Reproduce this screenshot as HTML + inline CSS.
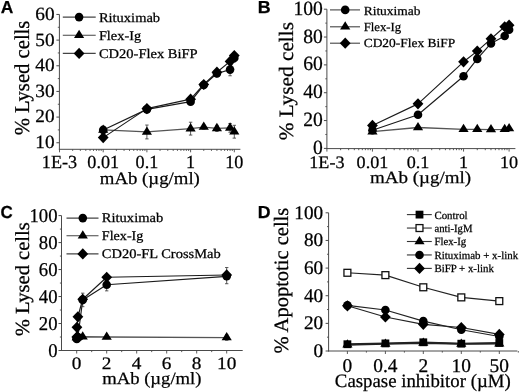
<!DOCTYPE html>
<html><head><meta charset="utf-8"><style>
html,body{margin:0;padding:0;background:#fff;}
svg{display:block;filter:blur(0.3px);}
text{fill:#000;stroke:#000;stroke-width:0.25px;text-rendering:geometricPrecision;}
</style></head><body>
<svg width="520" height="392" viewBox="0 0 520 392">
<rect width="520" height="392" fill="#fff"/>
<text x="0.69" y="13.32" font-size="17.40" textLength="12.57" lengthAdjust="spacingAndGlyphs" font-family="'Liberation Sans',sans-serif" font-weight="bold">A</text>
<line x1="59.40" y1="14.45" x2="59.40" y2="149.80" stroke="#4a4a4a" stroke-width="1.0"/>
<line x1="58.90" y1="149.30" x2="240.40" y2="149.30" stroke="#4a4a4a" stroke-width="1.0"/>
<line x1="56.40" y1="142.75" x2="59.40" y2="142.75" stroke="#4a4a4a" stroke-width="1.0"/>
<text x="35.35" y="148.15" font-size="18.65" textLength="19.27" lengthAdjust="spacingAndGlyphs" font-family="'Liberation Serif',serif">10</text>
<line x1="56.40" y1="117.09" x2="59.40" y2="117.09" stroke="#4a4a4a" stroke-width="1.0"/>
<text x="35.35" y="122.49" font-size="18.65" textLength="19.27" lengthAdjust="spacingAndGlyphs" font-family="'Liberation Serif',serif">20</text>
<line x1="56.40" y1="91.43" x2="59.40" y2="91.43" stroke="#4a4a4a" stroke-width="1.0"/>
<text x="35.35" y="96.83" font-size="18.65" textLength="19.27" lengthAdjust="spacingAndGlyphs" font-family="'Liberation Serif',serif">30</text>
<line x1="56.40" y1="65.77" x2="59.40" y2="65.77" stroke="#4a4a4a" stroke-width="1.0"/>
<text x="35.35" y="71.17" font-size="18.65" textLength="19.27" lengthAdjust="spacingAndGlyphs" font-family="'Liberation Serif',serif">40</text>
<line x1="56.40" y1="40.11" x2="59.40" y2="40.11" stroke="#4a4a4a" stroke-width="1.0"/>
<text x="35.35" y="45.51" font-size="18.65" textLength="19.27" lengthAdjust="spacingAndGlyphs" font-family="'Liberation Serif',serif">50</text>
<line x1="56.40" y1="14.45" x2="59.40" y2="14.45" stroke="#4a4a4a" stroke-width="1.0"/>
<text x="35.35" y="19.85" font-size="18.65" textLength="19.27" lengthAdjust="spacingAndGlyphs" font-family="'Liberation Serif',serif">60</text>
<line x1="57.80" y1="129.92" x2="59.40" y2="129.92" stroke="#4a4a4a" stroke-width="0.9"/>
<line x1="57.80" y1="104.26" x2="59.40" y2="104.26" stroke="#4a4a4a" stroke-width="0.9"/>
<line x1="57.80" y1="78.60" x2="59.40" y2="78.60" stroke="#4a4a4a" stroke-width="0.9"/>
<line x1="57.80" y1="52.94" x2="59.40" y2="52.94" stroke="#4a4a4a" stroke-width="0.9"/>
<line x1="57.80" y1="27.28" x2="59.40" y2="27.28" stroke="#4a4a4a" stroke-width="0.9"/>
<line x1="59.50" y1="149.30" x2="59.50" y2="152.30" stroke="#4a4a4a" stroke-width="0.9"/>
<line x1="72.66" y1="149.30" x2="72.66" y2="150.90" stroke="#4a4a4a" stroke-width="0.9"/>
<line x1="80.35" y1="149.30" x2="80.35" y2="150.90" stroke="#4a4a4a" stroke-width="0.9"/>
<line x1="85.81" y1="149.30" x2="85.81" y2="150.90" stroke="#4a4a4a" stroke-width="0.9"/>
<line x1="90.04" y1="149.30" x2="90.04" y2="150.90" stroke="#4a4a4a" stroke-width="0.9"/>
<line x1="93.51" y1="149.30" x2="93.51" y2="150.90" stroke="#4a4a4a" stroke-width="0.9"/>
<line x1="96.43" y1="149.30" x2="96.43" y2="150.90" stroke="#4a4a4a" stroke-width="0.9"/>
<line x1="98.97" y1="149.30" x2="98.97" y2="150.90" stroke="#4a4a4a" stroke-width="0.9"/>
<line x1="101.20" y1="149.30" x2="101.20" y2="150.90" stroke="#4a4a4a" stroke-width="0.9"/>
<line x1="103.20" y1="149.30" x2="103.20" y2="152.30" stroke="#4a4a4a" stroke-width="0.9"/>
<line x1="116.36" y1="149.30" x2="116.36" y2="150.90" stroke="#4a4a4a" stroke-width="0.9"/>
<line x1="124.05" y1="149.30" x2="124.05" y2="150.90" stroke="#4a4a4a" stroke-width="0.9"/>
<line x1="129.51" y1="149.30" x2="129.51" y2="150.90" stroke="#4a4a4a" stroke-width="0.9"/>
<line x1="133.74" y1="149.30" x2="133.74" y2="150.90" stroke="#4a4a4a" stroke-width="0.9"/>
<line x1="137.21" y1="149.30" x2="137.21" y2="150.90" stroke="#4a4a4a" stroke-width="0.9"/>
<line x1="140.13" y1="149.30" x2="140.13" y2="150.90" stroke="#4a4a4a" stroke-width="0.9"/>
<line x1="142.67" y1="149.30" x2="142.67" y2="150.90" stroke="#4a4a4a" stroke-width="0.9"/>
<line x1="144.90" y1="149.30" x2="144.90" y2="150.90" stroke="#4a4a4a" stroke-width="0.9"/>
<line x1="146.90" y1="149.30" x2="146.90" y2="152.30" stroke="#4a4a4a" stroke-width="0.9"/>
<line x1="160.06" y1="149.30" x2="160.06" y2="150.90" stroke="#4a4a4a" stroke-width="0.9"/>
<line x1="167.75" y1="149.30" x2="167.75" y2="150.90" stroke="#4a4a4a" stroke-width="0.9"/>
<line x1="173.21" y1="149.30" x2="173.21" y2="150.90" stroke="#4a4a4a" stroke-width="0.9"/>
<line x1="177.44" y1="149.30" x2="177.44" y2="150.90" stroke="#4a4a4a" stroke-width="0.9"/>
<line x1="180.91" y1="149.30" x2="180.91" y2="150.90" stroke="#4a4a4a" stroke-width="0.9"/>
<line x1="183.83" y1="149.30" x2="183.83" y2="150.90" stroke="#4a4a4a" stroke-width="0.9"/>
<line x1="186.37" y1="149.30" x2="186.37" y2="150.90" stroke="#4a4a4a" stroke-width="0.9"/>
<line x1="188.60" y1="149.30" x2="188.60" y2="150.90" stroke="#4a4a4a" stroke-width="0.9"/>
<line x1="190.60" y1="149.30" x2="190.60" y2="152.30" stroke="#4a4a4a" stroke-width="0.9"/>
<line x1="203.76" y1="149.30" x2="203.76" y2="150.90" stroke="#4a4a4a" stroke-width="0.9"/>
<line x1="211.45" y1="149.30" x2="211.45" y2="150.90" stroke="#4a4a4a" stroke-width="0.9"/>
<line x1="216.91" y1="149.30" x2="216.91" y2="150.90" stroke="#4a4a4a" stroke-width="0.9"/>
<line x1="221.14" y1="149.30" x2="221.14" y2="150.90" stroke="#4a4a4a" stroke-width="0.9"/>
<line x1="224.61" y1="149.30" x2="224.61" y2="150.90" stroke="#4a4a4a" stroke-width="0.9"/>
<line x1="227.53" y1="149.30" x2="227.53" y2="150.90" stroke="#4a4a4a" stroke-width="0.9"/>
<line x1="230.07" y1="149.30" x2="230.07" y2="150.90" stroke="#4a4a4a" stroke-width="0.9"/>
<line x1="232.30" y1="149.30" x2="232.30" y2="150.90" stroke="#4a4a4a" stroke-width="0.9"/>
<line x1="234.30" y1="149.30" x2="234.30" y2="152.30" stroke="#4a4a4a" stroke-width="0.9"/>
<text x="41.85" y="168.43" font-size="18.51" textLength="35.30" lengthAdjust="spacingAndGlyphs" font-family="'Liberation Serif',serif">1E-3</text>
<text x="87.31" y="168.43" font-size="18.51" textLength="31.78" lengthAdjust="spacingAndGlyphs" font-family="'Liberation Serif',serif">0.01</text>
<text x="135.55" y="168.43" font-size="18.51" textLength="22.70" lengthAdjust="spacingAndGlyphs" font-family="'Liberation Serif',serif">0.1</text>
<text x="186.06" y="168.43" font-size="18.51" textLength="9.08" lengthAdjust="spacingAndGlyphs" font-family="'Liberation Serif',serif">1</text>
<text x="225.22" y="168.43" font-size="18.51" textLength="18.16" lengthAdjust="spacingAndGlyphs" font-family="'Liberation Serif',serif">10</text>
<text x="99.84" y="183.59" font-size="17.31" textLength="100.04" lengthAdjust="spacingAndGlyphs" font-family="'Liberation Serif',serif">mAb (µg/ml)</text>
<text x="0" y="0" font-size="21.13" transform="translate(28.60,135.32) rotate(-90)" textLength="114.72" lengthAdjust="spacingAndGlyphs" font-family="'Liberation Serif',serif">% Lysed cells</text>
<line x1="62.80" y1="17.10" x2="95.70" y2="17.10" stroke="#444" stroke-width="1.1"/>
<circle cx="79.10" cy="17.10" r="4.30" fill="#000"/>
<text x="98.90" y="21.71" font-size="13.20" textLength="61.23" lengthAdjust="spacingAndGlyphs" font-family="'Liberation Serif',serif">Rituximab</text>
<line x1="62.80" y1="35.30" x2="95.70" y2="35.30" stroke="#444" stroke-width="1.1"/>
<polygon points="79.10,29.77 84.20,38.07 74.00,38.07" fill="#000"/>
<text x="98.90" y="39.90" font-size="13.20" textLength="42.24" lengthAdjust="spacingAndGlyphs" font-family="'Liberation Serif',serif">Flex-Ig</text>
<line x1="62.80" y1="53.40" x2="95.70" y2="53.40" stroke="#444" stroke-width="1.1"/>
<polygon points="79.10,47.80 84.50,53.40 79.10,59.00 73.70,53.40" fill="#000"/>
<text x="98.90" y="57.63" font-size="13.20" textLength="98.82" lengthAdjust="spacingAndGlyphs" font-family="'Liberation Serif',serif">CD20-Flex BiFP</text>
<polyline points="103.20,129.92 146.90,131.97 190.60,128.64 203.76,127.10 216.91,128.38 230.07,127.87 234.30,131.72" fill="none" stroke="#555" stroke-width="1.3" stroke-linejoin="round"/>
<polyline points="103.20,129.92 146.90,109.39 190.60,101.69 203.76,85.02 216.91,73.47 230.07,69.62 234.30,58.07" fill="none" stroke="#1a1a1a" stroke-width="1.15" stroke-linejoin="round"/>
<polyline points="103.20,137.62 146.90,108.62 190.60,99.13 203.76,84.50 216.91,72.19 230.07,61.41 234.30,55.51" fill="none" stroke="#1a1a1a" stroke-width="1.15" stroke-linejoin="round"/>
<line x1="146.90" y1="125.04" x2="146.90" y2="138.90" stroke="#333" stroke-width="0.8"/>
<line x1="145.20" y1="125.04" x2="148.60" y2="125.04" stroke="#333" stroke-width="0.8"/>
<line x1="145.20" y1="138.90" x2="148.60" y2="138.90" stroke="#333" stroke-width="0.8"/>
<line x1="190.60" y1="122.22" x2="190.60" y2="135.05" stroke="#333" stroke-width="0.8"/>
<line x1="188.90" y1="122.22" x2="192.30" y2="122.22" stroke="#333" stroke-width="0.8"/>
<line x1="188.90" y1="135.05" x2="192.30" y2="135.05" stroke="#333" stroke-width="0.8"/>
<line x1="203.76" y1="125.04" x2="203.76" y2="129.15" stroke="#333" stroke-width="0.8"/>
<line x1="202.06" y1="125.04" x2="205.46" y2="125.04" stroke="#333" stroke-width="0.8"/>
<line x1="202.06" y1="129.15" x2="205.46" y2="129.15" stroke="#333" stroke-width="0.8"/>
<line x1="216.91" y1="125.30" x2="216.91" y2="131.46" stroke="#333" stroke-width="0.8"/>
<line x1="215.21" y1="125.30" x2="218.61" y2="125.30" stroke="#333" stroke-width="0.8"/>
<line x1="215.21" y1="131.46" x2="218.61" y2="131.46" stroke="#333" stroke-width="0.8"/>
<line x1="230.07" y1="123.50" x2="230.07" y2="132.23" stroke="#333" stroke-width="0.8"/>
<line x1="228.37" y1="123.50" x2="231.77" y2="123.50" stroke="#333" stroke-width="0.8"/>
<line x1="228.37" y1="132.23" x2="231.77" y2="132.23" stroke="#333" stroke-width="0.8"/>
<line x1="234.30" y1="125.30" x2="234.30" y2="138.13" stroke="#333" stroke-width="0.8"/>
<line x1="232.60" y1="125.30" x2="236.00" y2="125.30" stroke="#333" stroke-width="0.8"/>
<line x1="232.60" y1="138.13" x2="236.00" y2="138.13" stroke="#333" stroke-width="0.8"/>
<line x1="103.20" y1="127.87" x2="103.20" y2="131.97" stroke="#333" stroke-width="0.8"/>
<line x1="101.50" y1="127.87" x2="104.90" y2="127.87" stroke="#333" stroke-width="0.8"/>
<line x1="101.50" y1="131.97" x2="104.90" y2="131.97" stroke="#333" stroke-width="0.8"/>
<line x1="230.07" y1="63.46" x2="230.07" y2="75.78" stroke="#333" stroke-width="0.8"/>
<line x1="228.37" y1="63.46" x2="231.77" y2="63.46" stroke="#333" stroke-width="0.8"/>
<line x1="228.37" y1="75.78" x2="231.77" y2="75.78" stroke="#333" stroke-width="0.8"/>
<line x1="234.30" y1="54.22" x2="234.30" y2="61.92" stroke="#333" stroke-width="0.8"/>
<line x1="232.60" y1="54.22" x2="236.00" y2="54.22" stroke="#333" stroke-width="0.8"/>
<line x1="232.60" y1="61.92" x2="236.00" y2="61.92" stroke="#333" stroke-width="0.8"/>
<line x1="216.91" y1="70.90" x2="216.91" y2="76.03" stroke="#333" stroke-width="0.8"/>
<line x1="215.21" y1="70.90" x2="218.61" y2="70.90" stroke="#333" stroke-width="0.8"/>
<line x1="215.21" y1="76.03" x2="218.61" y2="76.03" stroke="#333" stroke-width="0.8"/>
<line x1="146.90" y1="106.31" x2="146.90" y2="112.47" stroke="#333" stroke-width="0.8"/>
<line x1="145.20" y1="106.31" x2="148.60" y2="106.31" stroke="#333" stroke-width="0.8"/>
<line x1="145.20" y1="112.47" x2="148.60" y2="112.47" stroke="#333" stroke-width="0.8"/>
<polygon points="103.20,124.39 108.30,132.69 98.10,132.69" fill="#000"/>
<polygon points="146.90,126.44 152.00,134.74 141.80,134.74" fill="#000"/>
<polygon points="190.60,123.10 195.70,131.40 185.50,131.40" fill="#000"/>
<polygon points="203.76,121.56 208.86,129.86 198.66,129.86" fill="#000"/>
<polygon points="216.91,122.85 222.01,131.15 211.81,131.15" fill="#000"/>
<polygon points="230.07,122.33 235.17,130.63 224.97,130.63" fill="#000"/>
<polygon points="234.30,126.18 239.40,134.48 229.20,134.48" fill="#000"/>
<circle cx="103.20" cy="129.92" r="4.30" fill="#000"/>
<circle cx="146.90" cy="109.39" r="4.30" fill="#000"/>
<circle cx="190.60" cy="101.69" r="4.30" fill="#000"/>
<circle cx="203.76" cy="85.02" r="4.30" fill="#000"/>
<circle cx="216.91" cy="73.47" r="4.30" fill="#000"/>
<circle cx="230.07" cy="69.62" r="4.30" fill="#000"/>
<circle cx="234.30" cy="58.07" r="4.30" fill="#000"/>
<polygon points="103.20,132.02 108.60,137.62 103.20,143.22 97.80,137.62" fill="#000"/>
<polygon points="146.90,103.02 152.30,108.62 146.90,114.22 141.50,108.62" fill="#000"/>
<polygon points="190.60,93.53 196.00,99.13 190.60,104.73 185.20,99.13" fill="#000"/>
<polygon points="203.76,78.90 209.16,84.50 203.76,90.10 198.36,84.50" fill="#000"/>
<polygon points="216.91,66.59 222.31,72.19 216.91,77.78 211.51,72.19" fill="#000"/>
<polygon points="230.07,55.81 235.47,61.41 230.07,67.01 224.67,61.41" fill="#000"/>
<polygon points="234.30,49.91 239.70,55.51 234.30,61.11 228.90,55.51" fill="#000"/>
<text x="257.83" y="13.30" font-size="17.40" textLength="12.92" lengthAdjust="spacingAndGlyphs" font-family="'Liberation Sans',sans-serif" font-weight="bold">B</text>
<line x1="326.90" y1="9.20" x2="326.90" y2="149.10" stroke="#4a4a4a" stroke-width="1.0"/>
<line x1="326.40" y1="148.60" x2="515.40" y2="148.60" stroke="#4a4a4a" stroke-width="1.0"/>
<line x1="323.90" y1="148.40" x2="326.90" y2="148.40" stroke="#4a4a4a" stroke-width="1.0"/>
<text x="313.06" y="153.97" font-size="20.25" textLength="9.80" lengthAdjust="spacingAndGlyphs" font-family="'Liberation Serif',serif">0</text>
<line x1="323.90" y1="120.56" x2="326.90" y2="120.56" stroke="#4a4a4a" stroke-width="1.0"/>
<text x="303.26" y="126.13" font-size="20.25" textLength="19.60" lengthAdjust="spacingAndGlyphs" font-family="'Liberation Serif',serif">20</text>
<line x1="323.90" y1="92.72" x2="326.90" y2="92.72" stroke="#4a4a4a" stroke-width="1.0"/>
<text x="303.26" y="98.29" font-size="20.25" textLength="19.60" lengthAdjust="spacingAndGlyphs" font-family="'Liberation Serif',serif">40</text>
<line x1="323.90" y1="64.88" x2="326.90" y2="64.88" stroke="#4a4a4a" stroke-width="1.0"/>
<text x="303.26" y="70.45" font-size="20.25" textLength="19.60" lengthAdjust="spacingAndGlyphs" font-family="'Liberation Serif',serif">60</text>
<line x1="323.90" y1="37.04" x2="326.90" y2="37.04" stroke="#4a4a4a" stroke-width="1.0"/>
<text x="303.26" y="42.61" font-size="20.25" textLength="19.60" lengthAdjust="spacingAndGlyphs" font-family="'Liberation Serif',serif">80</text>
<line x1="323.90" y1="9.20" x2="326.90" y2="9.20" stroke="#4a4a4a" stroke-width="1.0"/>
<text x="293.46" y="14.77" font-size="20.25" textLength="29.40" lengthAdjust="spacingAndGlyphs" font-family="'Liberation Serif',serif">100</text>
<line x1="325.30" y1="134.48" x2="326.90" y2="134.48" stroke="#4a4a4a" stroke-width="0.9"/>
<line x1="325.30" y1="106.64" x2="326.90" y2="106.64" stroke="#4a4a4a" stroke-width="0.9"/>
<line x1="325.30" y1="78.80" x2="326.90" y2="78.80" stroke="#4a4a4a" stroke-width="0.9"/>
<line x1="325.30" y1="50.96" x2="326.90" y2="50.96" stroke="#4a4a4a" stroke-width="0.9"/>
<line x1="325.30" y1="23.12" x2="326.90" y2="23.12" stroke="#4a4a4a" stroke-width="0.9"/>
<line x1="326.90" y1="148.60" x2="326.90" y2="151.60" stroke="#4a4a4a" stroke-width="0.9"/>
<line x1="340.61" y1="148.60" x2="340.61" y2="150.20" stroke="#4a4a4a" stroke-width="0.9"/>
<line x1="348.63" y1="148.60" x2="348.63" y2="150.20" stroke="#4a4a4a" stroke-width="0.9"/>
<line x1="354.32" y1="148.60" x2="354.32" y2="150.20" stroke="#4a4a4a" stroke-width="0.9"/>
<line x1="358.74" y1="148.60" x2="358.74" y2="150.20" stroke="#4a4a4a" stroke-width="0.9"/>
<line x1="362.34" y1="148.60" x2="362.34" y2="150.20" stroke="#4a4a4a" stroke-width="0.9"/>
<line x1="365.39" y1="148.60" x2="365.39" y2="150.20" stroke="#4a4a4a" stroke-width="0.9"/>
<line x1="368.04" y1="148.60" x2="368.04" y2="150.20" stroke="#4a4a4a" stroke-width="0.9"/>
<line x1="370.37" y1="148.60" x2="370.37" y2="150.20" stroke="#4a4a4a" stroke-width="0.9"/>
<line x1="372.45" y1="148.60" x2="372.45" y2="151.60" stroke="#4a4a4a" stroke-width="0.9"/>
<line x1="386.16" y1="148.60" x2="386.16" y2="150.20" stroke="#4a4a4a" stroke-width="0.9"/>
<line x1="394.18" y1="148.60" x2="394.18" y2="150.20" stroke="#4a4a4a" stroke-width="0.9"/>
<line x1="399.87" y1="148.60" x2="399.87" y2="150.20" stroke="#4a4a4a" stroke-width="0.9"/>
<line x1="404.29" y1="148.60" x2="404.29" y2="150.20" stroke="#4a4a4a" stroke-width="0.9"/>
<line x1="407.89" y1="148.60" x2="407.89" y2="150.20" stroke="#4a4a4a" stroke-width="0.9"/>
<line x1="410.94" y1="148.60" x2="410.94" y2="150.20" stroke="#4a4a4a" stroke-width="0.9"/>
<line x1="413.59" y1="148.60" x2="413.59" y2="150.20" stroke="#4a4a4a" stroke-width="0.9"/>
<line x1="415.92" y1="148.60" x2="415.92" y2="150.20" stroke="#4a4a4a" stroke-width="0.9"/>
<line x1="418.00" y1="148.60" x2="418.00" y2="151.60" stroke="#4a4a4a" stroke-width="0.9"/>
<line x1="431.71" y1="148.60" x2="431.71" y2="150.20" stroke="#4a4a4a" stroke-width="0.9"/>
<line x1="439.73" y1="148.60" x2="439.73" y2="150.20" stroke="#4a4a4a" stroke-width="0.9"/>
<line x1="445.42" y1="148.60" x2="445.42" y2="150.20" stroke="#4a4a4a" stroke-width="0.9"/>
<line x1="449.84" y1="148.60" x2="449.84" y2="150.20" stroke="#4a4a4a" stroke-width="0.9"/>
<line x1="453.44" y1="148.60" x2="453.44" y2="150.20" stroke="#4a4a4a" stroke-width="0.9"/>
<line x1="456.49" y1="148.60" x2="456.49" y2="150.20" stroke="#4a4a4a" stroke-width="0.9"/>
<line x1="459.14" y1="148.60" x2="459.14" y2="150.20" stroke="#4a4a4a" stroke-width="0.9"/>
<line x1="461.47" y1="148.60" x2="461.47" y2="150.20" stroke="#4a4a4a" stroke-width="0.9"/>
<line x1="463.55" y1="148.60" x2="463.55" y2="151.60" stroke="#4a4a4a" stroke-width="0.9"/>
<line x1="477.26" y1="148.60" x2="477.26" y2="150.20" stroke="#4a4a4a" stroke-width="0.9"/>
<line x1="485.28" y1="148.60" x2="485.28" y2="150.20" stroke="#4a4a4a" stroke-width="0.9"/>
<line x1="490.97" y1="148.60" x2="490.97" y2="150.20" stroke="#4a4a4a" stroke-width="0.9"/>
<line x1="495.39" y1="148.60" x2="495.39" y2="150.20" stroke="#4a4a4a" stroke-width="0.9"/>
<line x1="498.99" y1="148.60" x2="498.99" y2="150.20" stroke="#4a4a4a" stroke-width="0.9"/>
<line x1="502.04" y1="148.60" x2="502.04" y2="150.20" stroke="#4a4a4a" stroke-width="0.9"/>
<line x1="504.69" y1="148.60" x2="504.69" y2="150.20" stroke="#4a4a4a" stroke-width="0.9"/>
<line x1="507.02" y1="148.60" x2="507.02" y2="150.20" stroke="#4a4a4a" stroke-width="0.9"/>
<line x1="509.10" y1="148.60" x2="509.10" y2="151.60" stroke="#4a4a4a" stroke-width="0.9"/>
<text x="309.28" y="167.83" font-size="17.51" textLength="35.23" lengthAdjust="spacingAndGlyphs" font-family="'Liberation Serif',serif">1E-3</text>
<text x="356.59" y="167.83" font-size="17.51" textLength="31.71" lengthAdjust="spacingAndGlyphs" font-family="'Liberation Serif',serif">0.01</text>
<text x="406.67" y="167.83" font-size="17.51" textLength="22.65" lengthAdjust="spacingAndGlyphs" font-family="'Liberation Serif',serif">0.1</text>
<text x="459.02" y="167.83" font-size="17.51" textLength="9.06" lengthAdjust="spacingAndGlyphs" font-family="'Liberation Serif',serif">1</text>
<text x="500.04" y="167.83" font-size="17.51" textLength="18.12" lengthAdjust="spacingAndGlyphs" font-family="'Liberation Serif',serif">10</text>
<text x="370.01" y="183.20" font-size="17.07" textLength="101.08" lengthAdjust="spacingAndGlyphs" font-family="'Liberation Serif',serif">mAb (µg/ml)</text>
<text x="0" y="0" font-size="20.42" transform="translate(293.10,140.33) rotate(-90)" textLength="118.33" lengthAdjust="spacingAndGlyphs" font-family="'Liberation Serif',serif">% Lysed cells</text>
<line x1="330.00" y1="9.90" x2="360.00" y2="9.90" stroke="#444" stroke-width="1.1"/>
<circle cx="345.20" cy="9.90" r="4.30" fill="#000"/>
<text x="363.66" y="14.60" font-size="12.40" textLength="56.86" lengthAdjust="spacingAndGlyphs" font-family="'Liberation Serif',serif">Rituximab</text>
<line x1="330.00" y1="26.80" x2="360.00" y2="26.80" stroke="#444" stroke-width="1.1"/>
<polygon points="345.20,21.27 350.30,29.57 340.10,29.57" fill="#000"/>
<text x="363.66" y="30.90" font-size="12.40" textLength="37.60" lengthAdjust="spacingAndGlyphs" font-family="'Liberation Serif',serif">Flex-Ig</text>
<line x1="330.00" y1="43.20" x2="360.00" y2="43.20" stroke="#444" stroke-width="1.1"/>
<polygon points="345.20,37.60 350.60,43.20 345.20,48.80 339.80,43.20" fill="#000"/>
<text x="363.66" y="47.30" font-size="12.40" textLength="91.60" lengthAdjust="spacingAndGlyphs" font-family="'Liberation Serif',serif">CD20-Flex BiFP</text>
<polyline points="372.45,131.70 418.00,127.52 463.55,129.33 477.26,129.33 490.97,129.61 504.69,129.33 509.10,128.49" fill="none" stroke="#555" stroke-width="1.3" stroke-linejoin="round"/>
<polyline points="372.45,130.30 418.00,114.71 463.55,76.29 477.26,58.89 490.97,43.44 504.69,35.93 509.10,29.66" fill="none" stroke="#1a1a1a" stroke-width="1.15" stroke-linejoin="round"/>
<polyline points="372.45,125.43 418.00,103.86 463.55,61.82 477.26,51.10 490.97,38.85 504.69,26.74 509.10,25.21" fill="none" stroke="#1a1a1a" stroke-width="1.15" stroke-linejoin="round"/>
<polygon points="372.45,126.16 377.55,134.46 367.35,134.46" fill="#000"/>
<polygon points="418.00,121.99 423.10,130.29 412.90,130.29" fill="#000"/>
<polygon points="463.55,123.80 468.65,132.10 458.45,132.10" fill="#000"/>
<polygon points="477.26,123.80 482.36,132.10 472.16,132.10" fill="#000"/>
<polygon points="490.97,124.07 496.07,132.37 485.87,132.37" fill="#000"/>
<polygon points="504.69,123.80 509.79,132.10 499.59,132.10" fill="#000"/>
<polygon points="509.10,122.96 514.20,131.26 504.00,131.26" fill="#000"/>
<circle cx="372.45" cy="130.30" r="4.30" fill="#000"/>
<circle cx="418.00" cy="114.71" r="4.30" fill="#000"/>
<circle cx="463.55" cy="76.29" r="4.30" fill="#000"/>
<circle cx="477.26" cy="58.89" r="4.30" fill="#000"/>
<circle cx="490.97" cy="43.44" r="4.30" fill="#000"/>
<circle cx="504.69" cy="35.93" r="4.30" fill="#000"/>
<circle cx="509.10" cy="29.66" r="4.30" fill="#000"/>
<polygon points="372.45,119.83 377.85,125.43 372.45,131.03 367.05,125.43" fill="#000"/>
<polygon points="418.00,98.26 423.40,103.86 418.00,109.46 412.60,103.86" fill="#000"/>
<polygon points="463.55,56.22 468.95,61.82 463.55,67.42 458.15,61.82" fill="#000"/>
<polygon points="477.26,45.50 482.66,51.10 477.26,56.70 471.86,51.10" fill="#000"/>
<polygon points="490.97,33.25 496.37,38.85 490.97,44.45 485.57,38.85" fill="#000"/>
<polygon points="504.69,21.14 510.09,26.74 504.69,32.34 499.29,26.74" fill="#000"/>
<polygon points="509.10,19.61 514.50,25.21 509.10,30.81 503.70,25.21" fill="#000"/>
<text x="0.51" y="218.08" font-size="17.40" textLength="12.26" lengthAdjust="spacingAndGlyphs" font-family="'Liberation Sans',sans-serif" font-weight="bold">C</text>
<line x1="61.50" y1="215.60" x2="61.50" y2="351.00" stroke="#4a4a4a" stroke-width="1.0"/>
<line x1="61.00" y1="350.50" x2="242.70" y2="350.50" stroke="#4a4a4a" stroke-width="1.0"/>
<line x1="58.50" y1="350.50" x2="61.50" y2="350.50" stroke="#4a4a4a" stroke-width="1.0"/>
<text x="48.16" y="356.84" font-size="19.54" textLength="9.35" lengthAdjust="spacingAndGlyphs" font-family="'Liberation Serif',serif">0</text>
<line x1="58.50" y1="323.52" x2="61.50" y2="323.52" stroke="#4a4a4a" stroke-width="1.0"/>
<text x="38.81" y="329.86" font-size="19.54" textLength="18.70" lengthAdjust="spacingAndGlyphs" font-family="'Liberation Serif',serif">20</text>
<line x1="58.50" y1="296.54" x2="61.50" y2="296.54" stroke="#4a4a4a" stroke-width="1.0"/>
<text x="38.81" y="302.88" font-size="19.54" textLength="18.70" lengthAdjust="spacingAndGlyphs" font-family="'Liberation Serif',serif">40</text>
<line x1="58.50" y1="269.56" x2="61.50" y2="269.56" stroke="#4a4a4a" stroke-width="1.0"/>
<text x="38.81" y="275.90" font-size="19.54" textLength="18.70" lengthAdjust="spacingAndGlyphs" font-family="'Liberation Serif',serif">60</text>
<line x1="58.50" y1="242.58" x2="61.50" y2="242.58" stroke="#4a4a4a" stroke-width="1.0"/>
<text x="38.81" y="248.92" font-size="19.54" textLength="18.70" lengthAdjust="spacingAndGlyphs" font-family="'Liberation Serif',serif">80</text>
<line x1="58.50" y1="215.60" x2="61.50" y2="215.60" stroke="#4a4a4a" stroke-width="1.0"/>
<text x="29.46" y="221.94" font-size="19.54" textLength="28.05" lengthAdjust="spacingAndGlyphs" font-family="'Liberation Serif',serif">100</text>
<line x1="59.90" y1="337.01" x2="61.50" y2="337.01" stroke="#4a4a4a" stroke-width="0.9"/>
<line x1="59.90" y1="310.03" x2="61.50" y2="310.03" stroke="#4a4a4a" stroke-width="0.9"/>
<line x1="59.90" y1="283.05" x2="61.50" y2="283.05" stroke="#4a4a4a" stroke-width="0.9"/>
<line x1="59.90" y1="256.07" x2="61.50" y2="256.07" stroke="#4a4a4a" stroke-width="0.9"/>
<line x1="59.90" y1="229.09" x2="61.50" y2="229.09" stroke="#4a4a4a" stroke-width="0.9"/>
<line x1="76.70" y1="350.50" x2="76.70" y2="353.50" stroke="#4a4a4a" stroke-width="0.9"/>
<line x1="91.70" y1="350.50" x2="91.70" y2="352.10" stroke="#4a4a4a" stroke-width="0.9"/>
<line x1="106.70" y1="350.50" x2="106.70" y2="353.50" stroke="#4a4a4a" stroke-width="0.9"/>
<line x1="121.70" y1="350.50" x2="121.70" y2="352.10" stroke="#4a4a4a" stroke-width="0.9"/>
<line x1="136.70" y1="350.50" x2="136.70" y2="353.50" stroke="#4a4a4a" stroke-width="0.9"/>
<line x1="151.70" y1="350.50" x2="151.70" y2="352.10" stroke="#4a4a4a" stroke-width="0.9"/>
<line x1="166.70" y1="350.50" x2="166.70" y2="353.50" stroke="#4a4a4a" stroke-width="0.9"/>
<line x1="181.70" y1="350.50" x2="181.70" y2="352.10" stroke="#4a4a4a" stroke-width="0.9"/>
<line x1="196.70" y1="350.50" x2="196.70" y2="353.50" stroke="#4a4a4a" stroke-width="0.9"/>
<line x1="211.70" y1="350.50" x2="211.70" y2="352.10" stroke="#4a4a4a" stroke-width="0.9"/>
<line x1="226.70" y1="350.50" x2="226.70" y2="353.50" stroke="#4a4a4a" stroke-width="0.9"/>
<text x="71.88" y="368.88" font-size="17.53" textLength="9.64" lengthAdjust="spacingAndGlyphs" font-family="'Liberation Serif',serif">0</text>
<text x="101.88" y="368.88" font-size="17.53" textLength="9.64" lengthAdjust="spacingAndGlyphs" font-family="'Liberation Serif',serif">2</text>
<text x="131.88" y="368.88" font-size="17.53" textLength="9.64" lengthAdjust="spacingAndGlyphs" font-family="'Liberation Serif',serif">4</text>
<text x="161.88" y="368.88" font-size="17.53" textLength="9.64" lengthAdjust="spacingAndGlyphs" font-family="'Liberation Serif',serif">6</text>
<text x="191.88" y="368.88" font-size="17.53" textLength="9.64" lengthAdjust="spacingAndGlyphs" font-family="'Liberation Serif',serif">8</text>
<text x="217.06" y="368.88" font-size="17.53" textLength="19.28" lengthAdjust="spacingAndGlyphs" font-family="'Liberation Serif',serif">10</text>
<text x="102.17" y="383.80" font-size="17.24" textLength="99.37" lengthAdjust="spacingAndGlyphs" font-family="'Liberation Serif',serif">mAb (µg/ml)</text>
<text x="0" y="0" font-size="20.00" transform="translate(28.90,336.30) rotate(-90)" textLength="114.00" lengthAdjust="spacingAndGlyphs" font-family="'Liberation Serif',serif">% Lysed cells</text>
<line x1="66.50" y1="218.10" x2="98.50" y2="218.10" stroke="#444" stroke-width="1.1"/>
<circle cx="82.80" cy="218.10" r="4.30" fill="#000"/>
<text x="101.87" y="222.40" font-size="13.20" textLength="61.32" lengthAdjust="spacingAndGlyphs" font-family="'Liberation Serif',serif">Rituximab</text>
<line x1="66.50" y1="235.80" x2="98.50" y2="235.80" stroke="#444" stroke-width="1.1"/>
<polygon points="82.80,230.27 87.90,238.57 77.70,238.57" fill="#000"/>
<text x="101.87" y="240.10" font-size="13.20" textLength="41.50" lengthAdjust="spacingAndGlyphs" font-family="'Liberation Serif',serif">Flex-Ig</text>
<line x1="66.50" y1="253.90" x2="98.50" y2="253.90" stroke="#444" stroke-width="1.1"/>
<polygon points="82.80,248.30 88.20,253.90 82.80,259.50 77.40,253.90" fill="#000"/>
<text x="101.87" y="258.40" font-size="13.20" textLength="118.80" lengthAdjust="spacingAndGlyphs" font-family="'Liberation Serif',serif">CD20-FL CrossMab</text>
<polyline points="76.75,337.55 76.94,337.55 77.90,337.28 82.70,336.74 106.70,337.01 226.70,337.55" fill="none" stroke="#555" stroke-width="1.3" stroke-linejoin="round"/>
<polyline points="76.75,339.03 76.94,338.36 77.90,337.01 82.70,299.91 106.70,284.80 226.70,276.31" fill="none" stroke="#1a1a1a" stroke-width="1.15" stroke-linejoin="round"/>
<polyline points="76.75,337.01 76.94,327.30 77.90,316.77 82.70,299.24 106.70,277.25 226.70,274.96" fill="none" stroke="#1a1a1a" stroke-width="1.15" stroke-linejoin="round"/>
<line x1="82.70" y1="293.17" x2="82.70" y2="306.66" stroke="#333" stroke-width="0.8"/>
<line x1="81.00" y1="293.17" x2="84.40" y2="293.17" stroke="#333" stroke-width="0.8"/>
<line x1="81.00" y1="306.66" x2="84.40" y2="306.66" stroke="#333" stroke-width="0.8"/>
<line x1="106.70" y1="278.73" x2="106.70" y2="290.87" stroke="#333" stroke-width="0.8"/>
<line x1="105.00" y1="278.73" x2="108.40" y2="278.73" stroke="#333" stroke-width="0.8"/>
<line x1="105.00" y1="290.87" x2="108.40" y2="290.87" stroke="#333" stroke-width="0.8"/>
<line x1="226.70" y1="267.54" x2="226.70" y2="283.72" stroke="#333" stroke-width="0.8"/>
<line x1="225.00" y1="267.54" x2="228.40" y2="267.54" stroke="#333" stroke-width="0.8"/>
<line x1="225.00" y1="283.72" x2="228.40" y2="283.72" stroke="#333" stroke-width="0.8"/>
<line x1="226.70" y1="334.85" x2="226.70" y2="340.25" stroke="#333" stroke-width="0.8"/>
<line x1="225.00" y1="334.85" x2="228.40" y2="334.85" stroke="#333" stroke-width="0.8"/>
<line x1="225.00" y1="340.25" x2="228.40" y2="340.25" stroke="#333" stroke-width="0.8"/>
<line x1="106.70" y1="335.39" x2="106.70" y2="338.63" stroke="#333" stroke-width="0.8"/>
<line x1="105.00" y1="335.39" x2="108.40" y2="335.39" stroke="#333" stroke-width="0.8"/>
<line x1="105.00" y1="338.63" x2="108.40" y2="338.63" stroke="#333" stroke-width="0.8"/>
<polygon points="76.75,332.02 81.85,340.32 71.65,340.32" fill="#000"/>
<polygon points="76.94,332.02 82.04,340.32 71.84,340.32" fill="#000"/>
<polygon points="77.90,331.75 83.00,340.05 72.80,340.05" fill="#000"/>
<polygon points="82.70,331.21 87.80,339.51 77.60,339.51" fill="#000"/>
<polygon points="106.70,331.48 111.80,339.78 101.60,339.78" fill="#000"/>
<polygon points="226.70,332.02 231.80,340.32 221.60,340.32" fill="#000"/>
<circle cx="76.75" cy="339.03" r="4.30" fill="#000"/>
<circle cx="76.94" cy="338.36" r="4.30" fill="#000"/>
<circle cx="77.90" cy="337.01" r="4.30" fill="#000"/>
<circle cx="82.70" cy="299.91" r="4.30" fill="#000"/>
<circle cx="106.70" cy="284.80" r="4.30" fill="#000"/>
<circle cx="226.70" cy="276.31" r="4.30" fill="#000"/>
<polygon points="76.75,331.41 82.15,337.01 76.75,342.61 71.35,337.01" fill="#000"/>
<polygon points="76.94,321.70 82.34,327.30 76.94,332.90 71.54,327.30" fill="#000"/>
<polygon points="77.90,311.17 83.30,316.77 77.90,322.38 72.50,316.77" fill="#000"/>
<polygon points="82.70,293.64 88.10,299.24 82.70,304.84 77.30,299.24" fill="#000"/>
<polygon points="106.70,271.65 112.10,277.25 106.70,282.85 101.30,277.25" fill="#000"/>
<polygon points="226.70,269.36 232.10,274.96 226.70,280.56 221.30,274.96" fill="#000"/>
<text x="257.70" y="217.60" font-size="17.40" textLength="12.80" lengthAdjust="spacingAndGlyphs" font-family="'Liberation Sans',sans-serif" font-weight="bold">D</text>
<line x1="328.60" y1="212.80" x2="328.60" y2="351.50" stroke="#4a4a4a" stroke-width="1.0"/>
<line x1="328.10" y1="351.00" x2="517.40" y2="351.00" stroke="#4a4a4a" stroke-width="1.0"/>
<line x1="325.60" y1="351.00" x2="328.60" y2="351.00" stroke="#4a4a4a" stroke-width="1.0"/>
<text x="313.50" y="356.90" font-size="19.30" textLength="9.60" lengthAdjust="spacingAndGlyphs" font-family="'Liberation Serif',serif">0</text>
<line x1="325.60" y1="323.36" x2="328.60" y2="323.36" stroke="#4a4a4a" stroke-width="1.0"/>
<text x="303.90" y="329.26" font-size="19.30" textLength="19.20" lengthAdjust="spacingAndGlyphs" font-family="'Liberation Serif',serif">20</text>
<line x1="325.60" y1="295.72" x2="328.60" y2="295.72" stroke="#4a4a4a" stroke-width="1.0"/>
<text x="303.90" y="301.62" font-size="19.30" textLength="19.20" lengthAdjust="spacingAndGlyphs" font-family="'Liberation Serif',serif">40</text>
<line x1="325.60" y1="268.08" x2="328.60" y2="268.08" stroke="#4a4a4a" stroke-width="1.0"/>
<text x="303.90" y="273.98" font-size="19.30" textLength="19.20" lengthAdjust="spacingAndGlyphs" font-family="'Liberation Serif',serif">60</text>
<line x1="325.60" y1="240.44" x2="328.60" y2="240.44" stroke="#4a4a4a" stroke-width="1.0"/>
<text x="303.90" y="246.34" font-size="19.30" textLength="19.20" lengthAdjust="spacingAndGlyphs" font-family="'Liberation Serif',serif">80</text>
<line x1="325.60" y1="212.80" x2="328.60" y2="212.80" stroke="#4a4a4a" stroke-width="1.0"/>
<text x="294.30" y="218.70" font-size="19.30" textLength="28.80" lengthAdjust="spacingAndGlyphs" font-family="'Liberation Serif',serif">100</text>
<line x1="327.00" y1="337.18" x2="328.60" y2="337.18" stroke="#4a4a4a" stroke-width="0.9"/>
<line x1="327.00" y1="309.54" x2="328.60" y2="309.54" stroke="#4a4a4a" stroke-width="0.9"/>
<line x1="327.00" y1="281.90" x2="328.60" y2="281.90" stroke="#4a4a4a" stroke-width="0.9"/>
<line x1="327.00" y1="254.26" x2="328.60" y2="254.26" stroke="#4a4a4a" stroke-width="0.9"/>
<line x1="327.00" y1="226.62" x2="328.60" y2="226.62" stroke="#4a4a4a" stroke-width="0.9"/>
<line x1="347.40" y1="351.00" x2="347.40" y2="354.00" stroke="#4a4a4a" stroke-width="0.9"/>
<line x1="366.40" y1="351.00" x2="366.40" y2="352.60" stroke="#4a4a4a" stroke-width="0.9"/>
<line x1="385.40" y1="351.00" x2="385.40" y2="354.00" stroke="#4a4a4a" stroke-width="0.9"/>
<line x1="404.40" y1="351.00" x2="404.40" y2="352.60" stroke="#4a4a4a" stroke-width="0.9"/>
<line x1="423.30" y1="351.00" x2="423.30" y2="354.00" stroke="#4a4a4a" stroke-width="0.9"/>
<line x1="442.30" y1="351.00" x2="442.30" y2="352.60" stroke="#4a4a4a" stroke-width="0.9"/>
<line x1="461.30" y1="351.00" x2="461.30" y2="354.00" stroke="#4a4a4a" stroke-width="0.9"/>
<line x1="480.30" y1="351.00" x2="480.30" y2="352.60" stroke="#4a4a4a" stroke-width="0.9"/>
<line x1="499.30" y1="351.00" x2="499.30" y2="354.00" stroke="#4a4a4a" stroke-width="0.9"/>
<line x1="518.30" y1="351.00" x2="518.30" y2="352.60" stroke="#4a4a4a" stroke-width="0.9"/>
<text x="342.55" y="371.55" font-size="19.40" textLength="9.70" lengthAdjust="spacingAndGlyphs" font-family="'Liberation Serif',serif">0</text>
<text x="373.27" y="371.55" font-size="19.40" textLength="24.25" lengthAdjust="spacingAndGlyphs" font-family="'Liberation Serif',serif">0.4</text>
<text x="418.45" y="371.55" font-size="19.40" textLength="9.70" lengthAdjust="spacingAndGlyphs" font-family="'Liberation Serif',serif">2</text>
<text x="451.60" y="371.55" font-size="19.40" textLength="19.40" lengthAdjust="spacingAndGlyphs" font-family="'Liberation Serif',serif">10</text>
<text x="489.60" y="371.55" font-size="19.40" textLength="19.40" lengthAdjust="spacingAndGlyphs" font-family="'Liberation Serif',serif">50</text>
<text x="334.86" y="386.51" font-size="18.92" textLength="175.86" lengthAdjust="spacingAndGlyphs" font-family="'Liberation Serif',serif">Caspase inhibitor (µM)</text>
<text x="0" y="0" font-size="20.40" transform="translate(288.00,353.50) rotate(-90)" textLength="145.80" lengthAdjust="spacingAndGlyphs" font-family="'Liberation Serif',serif">% Apoptotic cells</text>
<line x1="406.90" y1="214.60" x2="431.80" y2="214.60" stroke="#333" stroke-width="1.1"/>
<rect x="415.60" y="210.70" width="7.80" height="7.80" fill="#000"/>
<text x="434.40" y="218.70" font-size="11.00" textLength="33.20" lengthAdjust="spacingAndGlyphs" font-family="'Liberation Serif',serif">Control</text>
<line x1="406.90" y1="228.05" x2="431.80" y2="228.05" stroke="#333" stroke-width="1.1"/>
<rect x="416.05" y="224.60" width="6.90" height="6.90" fill="#fff" stroke="#111" stroke-width="1.3"/>
<text x="434.40" y="232.05" font-size="11.00" textLength="38.00" lengthAdjust="spacingAndGlyphs" font-family="'Liberation Serif',serif">anti-IgM</text>
<line x1="406.90" y1="241.50" x2="431.80" y2="241.50" stroke="#333" stroke-width="1.1"/>
<polygon points="419.50,235.97 424.60,244.27 414.40,244.27" fill="#000"/>
<text x="434.40" y="245.40" font-size="11.00" textLength="31.80" lengthAdjust="spacingAndGlyphs" font-family="'Liberation Serif',serif">Flex-Ig</text>
<line x1="406.90" y1="254.95" x2="431.80" y2="254.95" stroke="#333" stroke-width="1.1"/>
<circle cx="419.50" cy="254.95" r="4.30" fill="#000"/>
<text x="434.40" y="258.75" font-size="11.00" textLength="83.80" lengthAdjust="spacingAndGlyphs" font-family="'Liberation Serif',serif">Rituximab + x-link</text>
<line x1="406.90" y1="268.40" x2="431.80" y2="268.40" stroke="#333" stroke-width="1.1"/>
<polygon points="419.50,262.80 424.90,268.40 419.50,274.00 414.10,268.40" fill="#000"/>
<text x="434.40" y="272.10" font-size="11.00" textLength="59.50" lengthAdjust="spacingAndGlyphs" font-family="'Liberation Serif',serif">BiFP + x-link</text>
<polyline points="347.40,344.78 385.40,343.95 423.30,342.98 461.30,343.95 499.30,343.68" fill="none" stroke="#222" stroke-width="1.8" stroke-linejoin="round"/>
<polyline points="347.40,344.23 385.40,343.40 423.30,342.29 461.30,343.68 499.30,342.98" fill="none" stroke="#222" stroke-width="1.8" stroke-linejoin="round"/>
<polyline points="347.40,272.78 385.40,275.13 423.30,287.29 461.30,297.38 499.30,301.11" fill="none" stroke="#222" stroke-width="1.15" stroke-linejoin="round"/>
<polyline points="347.40,305.39 385.40,309.95 423.30,321.15 461.30,329.72 499.30,336.49" fill="none" stroke="#222" stroke-width="1.15" stroke-linejoin="round"/>
<polyline points="347.40,305.81 385.40,317.00 423.30,324.33 461.30,327.51 499.30,334.42" fill="none" stroke="#222" stroke-width="1.15" stroke-linejoin="round"/>
<polygon points="347.40,339.25 352.50,347.55 342.30,347.55" fill="#000"/>
<polygon points="385.40,338.42 390.50,346.72 380.30,346.72" fill="#000"/>
<polygon points="423.30,337.45 428.40,345.75 418.20,345.75" fill="#000"/>
<polygon points="461.30,338.42 466.40,346.72 456.20,346.72" fill="#000"/>
<polygon points="499.30,338.14 504.40,346.44 494.20,346.44" fill="#000"/>
<rect x="343.50" y="340.33" width="7.80" height="7.80" fill="#000"/>
<rect x="381.50" y="339.50" width="7.80" height="7.80" fill="#000"/>
<rect x="419.40" y="338.39" width="7.80" height="7.80" fill="#000"/>
<rect x="457.40" y="339.78" width="7.80" height="7.80" fill="#000"/>
<rect x="495.40" y="339.08" width="7.80" height="7.80" fill="#000"/>
<circle cx="347.40" cy="305.39" r="4.30" fill="#000"/>
<circle cx="385.40" cy="309.95" r="4.30" fill="#000"/>
<circle cx="423.30" cy="321.15" r="4.30" fill="#000"/>
<circle cx="461.30" cy="329.72" r="4.30" fill="#000"/>
<circle cx="499.30" cy="336.49" r="4.30" fill="#000"/>
<polygon points="347.40,300.21 352.80,305.81 347.40,311.41 342.00,305.81" fill="#000"/>
<polygon points="385.40,311.40 390.80,317.00 385.40,322.60 380.00,317.00" fill="#000"/>
<polygon points="423.30,318.73 428.70,324.33 423.30,329.93 417.90,324.33" fill="#000"/>
<polygon points="461.30,321.91 466.70,327.51 461.30,333.11 455.90,327.51" fill="#000"/>
<polygon points="499.30,328.82 504.70,334.42 499.30,340.02 493.90,334.42" fill="#000"/>
<rect x="343.95" y="269.33" width="6.90" height="6.90" fill="#fff" stroke="#111" stroke-width="1.3"/>
<rect x="381.95" y="271.68" width="6.90" height="6.90" fill="#fff" stroke="#111" stroke-width="1.3"/>
<rect x="419.85" y="283.84" width="6.90" height="6.90" fill="#fff" stroke="#111" stroke-width="1.3"/>
<rect x="457.85" y="293.93" width="6.90" height="6.90" fill="#fff" stroke="#111" stroke-width="1.3"/>
<rect x="495.85" y="297.66" width="6.90" height="6.90" fill="#fff" stroke="#111" stroke-width="1.3"/>
</svg>
</body></html>
